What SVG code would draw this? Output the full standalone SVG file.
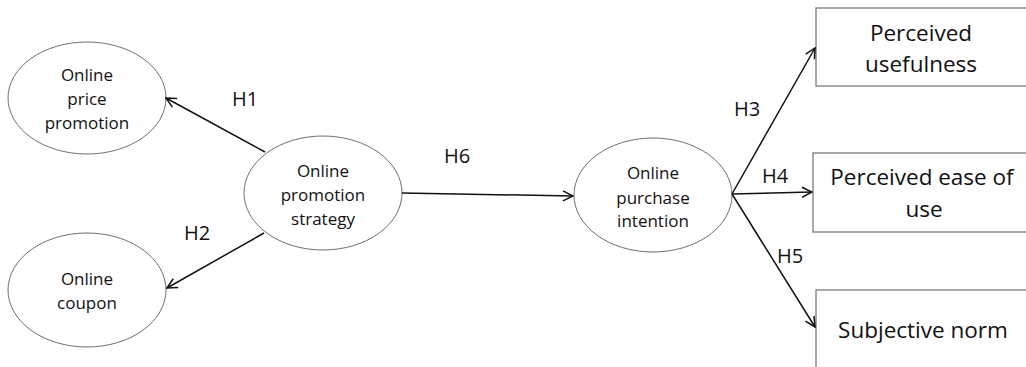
<svg xmlns="http://www.w3.org/2000/svg" width="1026" height="367" viewBox="0 0 1026 367">
<style>
.node ellipse{fill:#fff;stroke:#6f6f6f;stroke-width:1}
.node rect{fill:#fff;stroke:#7a7a7a;stroke-width:1.3}
.t{font-family:"Open Sans","Liberation Sans",sans-serif;font-size:17px;fill:#111;text-anchor:middle;dominant-baseline:central}
.tb{font-family:"Open Sans","Liberation Sans",sans-serif;font-size:22.5px;fill:#111;text-anchor:middle;dominant-baseline:central}
.lbl{font-family:"Open Sans","Liberation Sans",sans-serif;font-size:20px;fill:#111;text-anchor:middle;dominant-baseline:central}
.edge{stroke:#111;stroke-width:1.5;fill:none;marker-end:url(#arr)}
</style>
<defs>
<marker id="arr" viewBox="0 0 12 12" refX="11" refY="6" markerWidth="12" markerHeight="12" markerUnits="userSpaceOnUse" orient="auto">
<path d="M1,1 L11,6 L1,11" fill="none" stroke="#111" stroke-width="1.5"/>
</marker>
</defs>
<rect width="1026" height="367" fill="#fff"/>
<g id="n_price" class="node">
<ellipse cx="87" cy="98" rx="79" ry="56"/>
<text class="t" x="87" y="74">Online</text>
<text class="t" x="87" y="98">price</text>
<text class="t" x="87" y="122">promotion</text>
</g>
<g id="n_coupon" class="node">
<ellipse cx="87" cy="290" rx="79" ry="57"/>
<text class="t" x="87" y="278">Online</text>
<text class="t" x="87" y="302">coupon</text>
</g>
<g id="n_strategy" class="node">
<ellipse cx="323" cy="193" rx="79" ry="57"/>
<text class="t" x="323" y="170">Online</text>
<text class="t" x="323" y="194">promotion</text>
<text class="t" x="323" y="218">strategy</text>
</g>
<g id="n_intention" class="node">
<ellipse cx="653" cy="195" rx="79" ry="57"/>
<text class="t" x="653" y="172">Online</text>
<text class="t" x="653" y="197">purchase</text>
<text class="t" x="653" y="220">intention</text>
</g>
<g id="n_useful" class="node">
<rect x="816" y="8" width="220" height="78"/>
<text class="tb" x="921" y="32">Perceived</text>
<text class="tb" x="921" y="63">usefulness</text>
</g>
<g id="n_ease" class="node">
<rect x="813" y="153" width="223" height="79"/>
<text class="tb" x="922" y="176">Perceived ease of</text>
<text class="tb" x="924" y="208">use</text>
</g>
<g id="n_norm" class="node">
<rect x="816" y="290" width="220" height="90"/>
<text class="tb" x="923" y="329">Subjective norm</text>
</g>
<g id="connectors">
<line class="edge" x1="265" y1="152" x2="166" y2="98"/>
<line class="edge" x1="264" y1="233" x2="167" y2="288"/>
<line class="edge" x1="402" y1="193" x2="573" y2="196"/>
<line class="edge" x1="732" y1="194" x2="815" y2="48"/>
<line class="edge" x1="732" y1="194" x2="812" y2="192"/>
<line class="edge" x1="732" y1="194" x2="815" y2="327"/>
<text class="lbl" x="245" y="98">H1</text>
<text class="lbl" x="197" y="232">H2</text>
<text class="lbl" x="457" y="155">H6</text>
<text class="lbl" x="747" y="108">H3</text>
<text class="lbl" x="775" y="175">H4</text>
<text class="lbl" x="790" y="255">H5</text>
</g>
</svg>
